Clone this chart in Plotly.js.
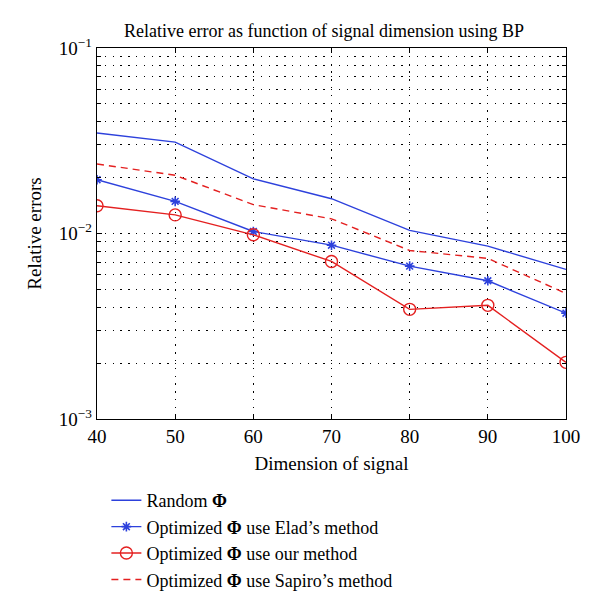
<!DOCTYPE html>
<html>
<head>
<meta charset="utf-8">
<script src="https://cdn.plot.ly/plotly-3.0.1.min.js"></script>
<style>html,body{margin:0;padding:0;background:#fff;}#chart{width:600px;height:606px;}</style>
</head>
<body>
<div id="chart"></div>
<script>
const dims = [40, 50, 60, 70, 80, 90, 100];
const randomPhi = [0.0348, 0.0311, 0.0197, 0.0154, 0.0104, 0.00855, 0.0064];
const eladPhi = [0.0195, 0.0149, 0.01025, 0.00865, 0.00667, 0.00556, 0.00372];
const ourPhi = [0.0141, 0.0126, 0.00984, 0.00707, 0.0039, 0.0041, 0.00202];
const sapiroPhi = [0.0237, 0.0206, 0.0143, 0.012, 0.0081, 0.00734, 0.00475];
const seriesNames = [
  'Random <b>Φ</b>',
  'Optimized <b>Φ</b> use Elad’s method',
  'Optimized <b>Φ</b> use our method',
  'Optimized <b>Φ</b> use Sapiro’s method'
];
const xTicks = [40, 50, 60, 70, 80, 90, 100];
const yMajorTicks = [0.001, 0.01, 0.1];
const yMajorLabels = ['10<sup>−3</sup>', '10<sup>−2</sup>', '10<sup>−1</sup>'];

const blue = 'rgb(45,65,220)';
const red = 'rgb(228,32,32)';

// minor ticks at 2..9 of each decade
const yMinorTicks = [];
yMajorTicks.slice(0, 2).forEach(base => {
  for (let d = 2; d <= 9; d++) yMinorTicks.push(d * base);
});

const traces = [
  {x: dims, y: randomPhi, name: seriesNames[0], mode: 'lines',
   line: {color: blue, width: 1.4}},
  {x: dims, y: eladPhi, name: seriesNames[1], mode: 'lines+markers',
   line: {color: blue, width: 1.4},
   marker: {symbol: 'asterisk-open', size: 8, color: blue, line: {color: blue, width: 1.6}}},
  {x: dims, y: ourPhi, name: seriesNames[2], mode: 'lines+markers',
   line: {color: red, width: 1.4},
   marker: {symbol: 'circle-open', size: 12, color: red, line: {color: red, width: 1.4}}},
  {x: dims, y: sapiroPhi, name: seriesNames[3], mode: 'lines',
   line: {color: red, width: 1.4, dash: '7px,5px'}}
];

const fam = '"Liberation Serif", "DejaVu Serif", serif';
const font = {family: fam, color: '#000', size: 19};
const gridDash = '1.3px,6.5px';

const layout = {
  width: 600, height: 606,
  paper_bgcolor: '#fff', plot_bgcolor: '#fff',
  font: font,
  margin: {l: 97, r: 34, t: 48, b: 187, autoexpand: false},
  title: {text: 'Relative error as function of signal dimension using BP',
          font: {family: fam, size: 18, color: '#000'},
          x: 0.54, xanchor: 'center', y: 0.95, yanchor: 'middle'},
  showlegend: true,
  legend: {x: 0.02, y: -0.17, xanchor: 'left', yanchor: 'top', orientation: 'v',
           font: {family: fam, size: 18, color: '#000'},
           bgcolor: 'rgba(0,0,0,0)', tracegroupgap: 0, itemwidth: 30},
  xaxis: {
    range: [40, 100], tickmode: 'array', tickvals: xTicks, ticktext: xTicks.map(String),
    ticks: 'inside', ticklen: 5, tickcolor: '#000', mirror: 'ticks',
    showline: true, linecolor: '#000', linewidth: 1.2,
    showgrid: true, gridcolor: '#000', griddash: gridDash, gridwidth: 1,
    zeroline: false, automargin: false,
    tickfont: {family: fam, size: 19, color: '#000'},
    title: {text: 'Dimension of signal', font: {family: fam, size: 19, color: '#000'}, standoff: 10}
  },
  yaxis: {
    type: 'log', range: [-3, -1],
    tickmode: 'array', tickvals: yMajorTicks, ticktext: yMajorLabels,
    ticks: 'inside', ticklen: 5, tickcolor: '#000', mirror: 'ticks',
    showline: true, linecolor: '#000', linewidth: 1.2,
    showgrid: true, gridcolor: '#000', griddash: gridDash, gridwidth: 1,
    zeroline: false, automargin: false,
    minor: {tickmode: 'array', tickvals: yMinorTicks, ticks: 'inside', ticklen: 4,
            tickcolor: '#000', showgrid: true, gridcolor: '#000', griddash: gridDash, gridwidth: 1},
    tickfont: {family: fam, size: 19, color: '#000'},
    title: {text: 'Relative errors', font: {family: fam, size: 19, color: '#000'}, standoff: 12}
  }
};

Plotly.newPlot('chart', traces, layout, {displayModeBar: false, staticPlot: true});
</script>
</body>
</html>
